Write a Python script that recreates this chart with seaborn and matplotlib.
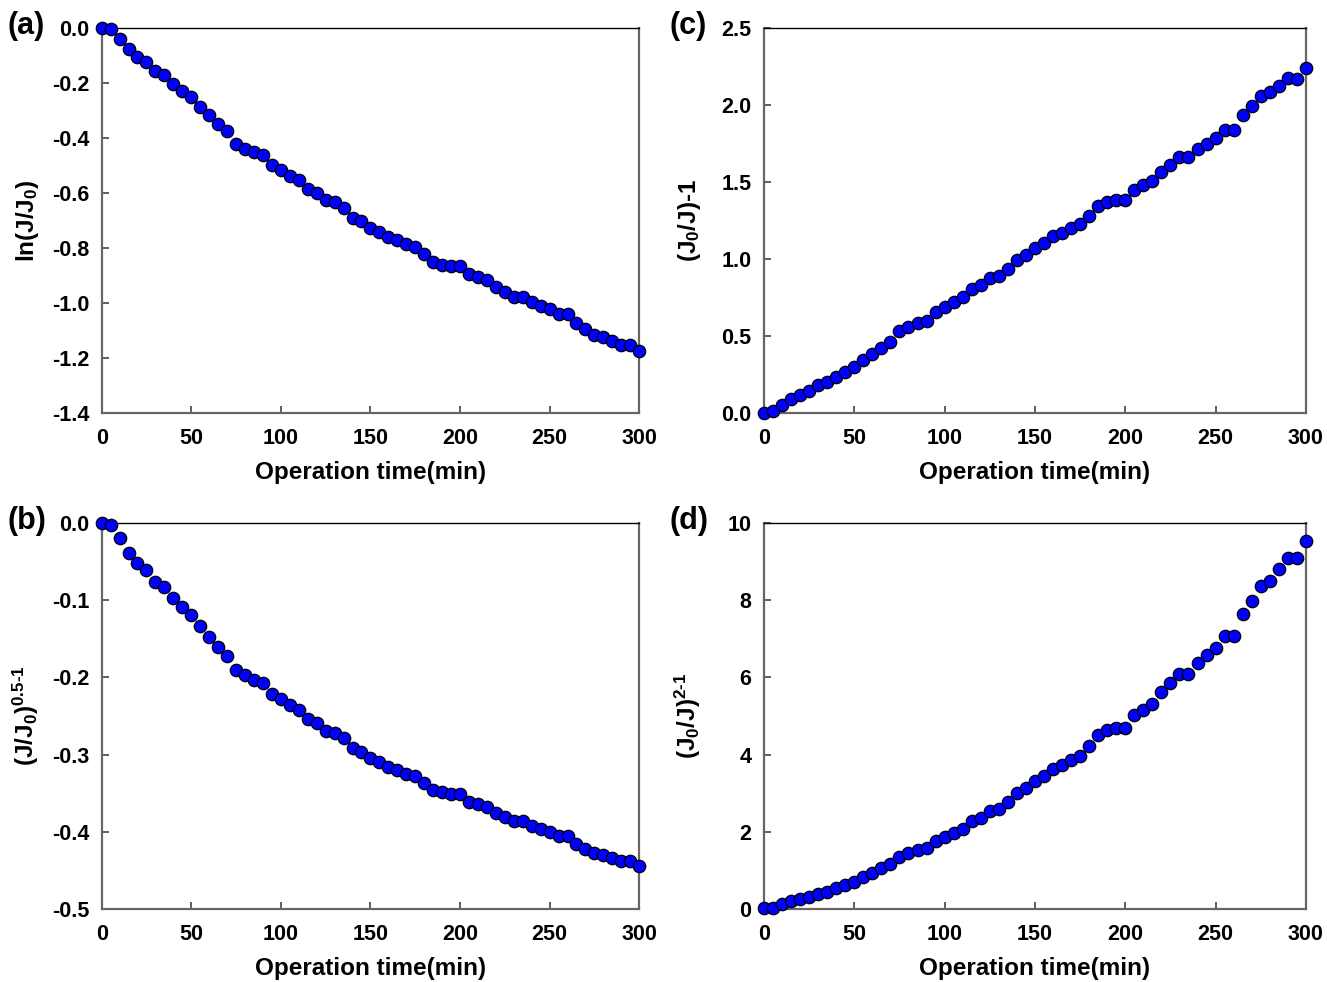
import numpy as np
import pandas as pd
import matplotlib
matplotlib.use("Agg")
import matplotlib.pyplot as plt
import seaborn as sns

# sampling times (every 5 min)
time_min = list(range(0, 301, 5))

# (a) ln(J/J0)
ln_ratio = [0.000, -0.003, -0.042, -0.079, -0.107, -0.125, -0.156, -0.172, -0.204, -0.230,
            -0.253, -0.287, -0.318, -0.350, -0.376, -0.422, -0.439, -0.453, -0.464, -0.499,
            -0.518, -0.538, -0.554, -0.587, -0.600, -0.625, -0.634, -0.656, -0.690, -0.703,
            -0.727, -0.742, -0.761, -0.770, -0.787, -0.798, -0.823, -0.850, -0.861, -0.865,
            -0.864, -0.895, -0.905, -0.916, -0.942, -0.960, -0.978, -0.977, -0.996, -1.010,
            -1.022, -1.040, -1.039, -1.074, -1.095, -1.116, -1.122, -1.138, -1.153, -1.153,
            -1.175]

# (b) (J/J0)^0.5 - 1
sqrt_ratio = [0.000, -0.002, -0.020, -0.039, -0.052, -0.061, -0.076, -0.083, -0.097, -0.109,
              -0.119, -0.134, -0.147, -0.160, -0.172, -0.190, -0.197, -0.203, -0.207, -0.221,
              -0.228, -0.236, -0.242, -0.254, -0.259, -0.269, -0.272, -0.279, -0.291, -0.296,
              -0.304, -0.310, -0.316, -0.320, -0.325, -0.328, -0.337, -0.346, -0.349, -0.351,
              -0.351, -0.361, -0.364, -0.368, -0.375, -0.381, -0.386, -0.386, -0.392, -0.396,
              -0.400, -0.405, -0.405, -0.416, -0.422, -0.428, -0.430, -0.434, -0.438, -0.438,
              -0.444]

# (c) (J0/J) - 1
inv_ratio = [0.000, 0.010, 0.050, 0.090, 0.120, 0.140, 0.180, 0.200, 0.235, 0.267,
             0.297, 0.345, 0.386, 0.425, 0.463, 0.530, 0.560, 0.582, 0.599, 0.653,
             0.688, 0.720, 0.750, 0.806, 0.830, 0.877, 0.892, 0.933, 0.996, 1.024,
             1.071, 1.106, 1.147, 1.170, 1.200, 1.224, 1.280, 1.343, 1.369, 1.381,
             1.381, 1.448, 1.481, 1.506, 1.565, 1.612, 1.662, 1.662, 1.711, 1.746,
             1.782, 1.836, 1.836, 1.931, 1.994, 2.056, 2.080, 2.123, 2.172, 2.170,
             2.241]

# (d) (J0/J)^2 - 1
sq_inv_ratio = [0.02, 0.03, 0.12, 0.20, 0.27, 0.32, 0.40, 0.45, 0.55, 0.62,
                0.70, 0.83, 0.94, 1.06, 1.16, 1.36, 1.45, 1.52, 1.58, 1.75,
                1.86, 1.97, 2.08, 2.29, 2.36, 2.54, 2.60, 2.77, 3.01, 3.13,
                3.32, 3.45, 3.62, 3.72, 3.86, 3.97, 4.23, 4.52, 4.63, 4.70,
                4.70, 5.02, 5.16, 5.31, 5.61, 5.85, 6.10, 6.10, 6.38, 6.57,
                6.77, 7.07, 7.07, 7.64, 7.99, 8.38, 8.51, 8.80, 9.09, 9.09,
                9.54]

sns.set_style("ticks")
plt.rcParams["font.family"] = ["Liberation Sans", "DejaVu Sans"]
plt.rcParams["font.weight"] = "bold"
plt.rcParams["text.color"] = "black"
plt.rcParams["axes.labelcolor"] = "black"
plt.rcParams["xtick.color"] = "black"
plt.rcParams["ytick.color"] = "black"
plt.rcParams["axes.unicode_minus"] = False
plt.rcParams["mathtext.fontset"] = "custom"
plt.rcParams["mathtext.rm"] = "Liberation Sans:bold"
plt.rcParams["mathtext.bf"] = "Liberation Sans:bold"
plt.rcParams["mathtext.default"] = "rm"

fig = plt.figure(figsize=(13.27, 9.82), dpi=100)

panels = [
    # tag, data, ylabel, ylim, ystep, fmt, rect
    ("(a)", ln_ratio, r"ln(J/J$_0$)", (-1.4, 0.0), 0.2, "{:.1f}",
     [0.0766, 0.5794, 0.4051, 0.3924]),
    ("(b)", sqrt_ratio, r"(J/J$_0$)$^{0.5\text{-}1}$", (-0.5, 0.0), 0.1, "{:.1f}",
     [0.0766, 0.0743, 0.4051, 0.3931]),
    ("(c)", inv_ratio, r"(J$_0$/J)-1", (0.0, 2.5), 0.5, "{:.1f}",
     [0.5757, 0.5794, 0.4084, 0.3924]),
    ("(d)", sq_inv_ratio, r"(J$_0$/J)$^{2\text{-}1}$", (0.0, 10.0), 2.0, "{:.0f}",
     [0.5757, 0.0743, 0.4084, 0.3931]),
]

for tag, vals, ylab, ylim, ystep, fmt, rect in panels:
    ax = fig.add_axes(rect)
    df = pd.DataFrame({"time": time_min, "value": vals})
    sns.scatterplot(data=df, x="time", y="value", ax=ax, s=80, color="#0000ff",
                    edgecolor="black", linewidth=0.9, clip_on=False, zorder=5)
    ax.set_xlim(0, 300)
    ax.set_ylim(*ylim)
    ax.set_xticks(range(0, 301, 50))
    yt = np.round(np.arange(ylim[0], ylim[1] + ystep / 2, ystep), 3)
    ax.set_yticks(yt)
    ax.set_yticklabels([fmt.format(v + 0.0) for v in yt])
    ax.tick_params(direction="in", length=5, width=1.2, labelsize=15.5,
                   color="#444444", labelcolor="black")
    ax.tick_params(axis="x", pad=11)
    ax.tick_params(axis="y", pad=9)
    for lab in ax.get_xticklabels() + ax.get_yticklabels():
        lab.set_fontweight("bold")
    for side in ["left", "bottom", "right"]:
        ax.spines[side].set_color("#666666")
        ax.spines[side].set_linewidth(1.6)
    ax.spines["top"].set_color("black")
    ax.spines["top"].set_linewidth(1.0)
    ax.set_xlabel("Operation time(min)", fontsize=17.5, fontweight="bold")
    ax.set_ylabel(ylab, fontsize=17.5, fontweight="bold")
    ax.xaxis.set_label_coords(0.5, -0.125)
    ax.yaxis.set_label_coords(-0.112, 0.5)
    bb = ax.get_position()
    fig.text(bb.x0 - 0.071, bb.y1 + 0.002, tag, fontsize=22, fontweight="bold",
             ha="left", va="center")

fig.savefig("out.png", dpi=100)
